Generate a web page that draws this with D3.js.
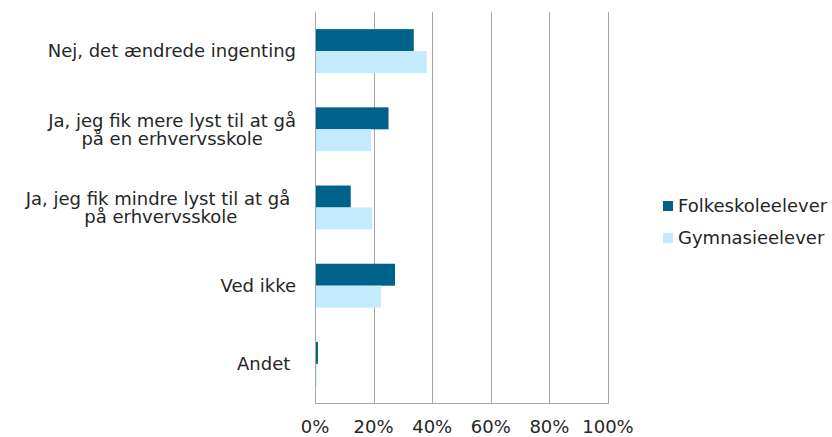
<html>
<head>
<style>
  body { margin: 0; background: #fff; }
  text { font-family: "DejaVu Sans", Verdana, sans-serif; fill: #262626; }
</style>
</head>
<body>
<div id="chart"></div>
<script src="https://d3js.org/d3.v7.min.js"></script>
<script>
var categories = [
  ["Nej, det ændrede ingenting"],
  ["Ja, jeg fik mere lyst til at gå", "på en erhvervsskole"],
  ["Ja, jeg fik mindre lyst til at gå ", "på erhvervsskole"],
  ["Ved ikke"],
  ["Andet "]
];
var series = ["Folkeskoleelever", "Gymnasieelever"];
var folkeskole = [0.337, 0.251, 0.122, 0.273, 0.010];
var gymnasie = [0.381, 0.191, 0.196, 0.225, 0.006];
var ticks = [0, 0.2, 0.4, 0.6, 0.8, 1];
var colors = ["#00628A", "#C4EAFD"];

var width = 832, height = 437;
var plotLeft = 315, plotRight = 608, plotTop = 12, plotBottom = 403;

var svg = d3.select("#chart").append("svg")
    .attr("width", width)
    .attr("height", height);

var x = d3.scaleLinear().domain([0, 1]).range([plotLeft, plotRight]);
var y = d3.scaleBand().domain(d3.range(categories.length)).range([plotTop, plotBottom]);
var ySub = d3.scaleBand().domain(series).range([0, y.bandwidth()]).paddingOuter(0.78);
var color = d3.scaleOrdinal().domain(series).range(colors);

// gridlines
svg.append("g")
  .selectAll("line")
  .data(ticks.slice(1))
  .enter().append("line")
  .attr("x1", function(d){ return Math.round(x(d)) + 0.5; })
  .attr("x2", function(d){ return Math.round(x(d)) + 0.5; })
  .attr("y1", plotTop)
  .attr("y2", plotBottom)
  .attr("stroke", "#a6a6a6")
  .attr("stroke-width", 1);

// bars
var rows = categories.map(function(c, i){
  return [
    {cat: i, s: series[0], v: folkeskole[i]},
    {cat: i, s: series[1], v: gymnasie[i]}
  ];
});

svg.append("g")
  .selectAll("g")
  .data(rows)
  .enter().append("g")
  .attr("transform", function(d, i){ return "translate(0," + y(i) + ")"; })
  .selectAll("rect")
  .data(function(d){ return d; })
  .enter().append("rect")
  .attr("x", x(0))
  .attr("y", function(d){ return ySub(d.s); })
  .attr("width", function(d){ return x(d.v) - x(0); })
  .attr("height", ySub.bandwidth())
  .attr("fill", function(d){ return color(d.s); });

// axis lines
svg.append("line")
  .attr("x1", plotLeft + 0.5).attr("x2", plotLeft + 0.5)
  .attr("y1", plotTop).attr("y2", plotBottom)
  .attr("stroke", "#a6a6a6");

svg.append("line")
  .attr("x1", plotLeft).attr("x2", plotRight + 1)
  .attr("y1", plotBottom + 0.5).attr("y2", plotBottom + 0.5)
  .attr("stroke", "#a6a6a6");

// x tick labels
var fmt = d3.format(".0%");
svg.append("g")
  .selectAll("text")
  .data(ticks)
  .enter().append("text")
  .attr("x", function(d){ return x(d); })
  .attr("y", 433)
  .attr("text-anchor", "middle")
  .style("font-size", "18px")
  .text(fmt);

// category labels
var labelRight = 296, lineH = 18;
var labels = svg.append("g")
  .selectAll("g")
  .data(categories)
  .enter().append("g");

labels.each(function(lines, i){
  var g = d3.select(this);
  var t = g.append("text")
    .attr("text-anchor", "middle")
    .style("font-size", "18px")
    .style("white-space", "pre");
  var cy = y(i) + y.bandwidth() / 2;
  var y0 = cy - (lines.length - 1) * lineH / 2;
  lines.forEach(function(l, k){
    t.append("tspan")
      .attr("y", y0 + k * lineH)
      .attr("dy", "0.35em")
      .text(l);
  });
  var w = 0;
  t.selectAll("tspan").each(function(){ w = Math.max(w, this.getComputedTextLength()); });
  t.selectAll("tspan").attr("x", labelRight - w / 2);
});

// legend
var legend = svg.append("g")
  .selectAll("g")
  .data(series)
  .enter().append("g")
  .attr("transform", function(d, i){ return "translate(663," + (206 + i * 32) + ")"; });

legend.append("rect")
  .attr("x", 0).attr("y", -5)
  .attr("width", 10).attr("height", 10)
  .attr("fill", function(d){ return color(d); });

legend.append("text")
  .attr("x", 15)
  .attr("dy", "0.35em")
  .style("font-size", "18px")
  .text(function(d){ return d; });
</script>
</body>
</html>
